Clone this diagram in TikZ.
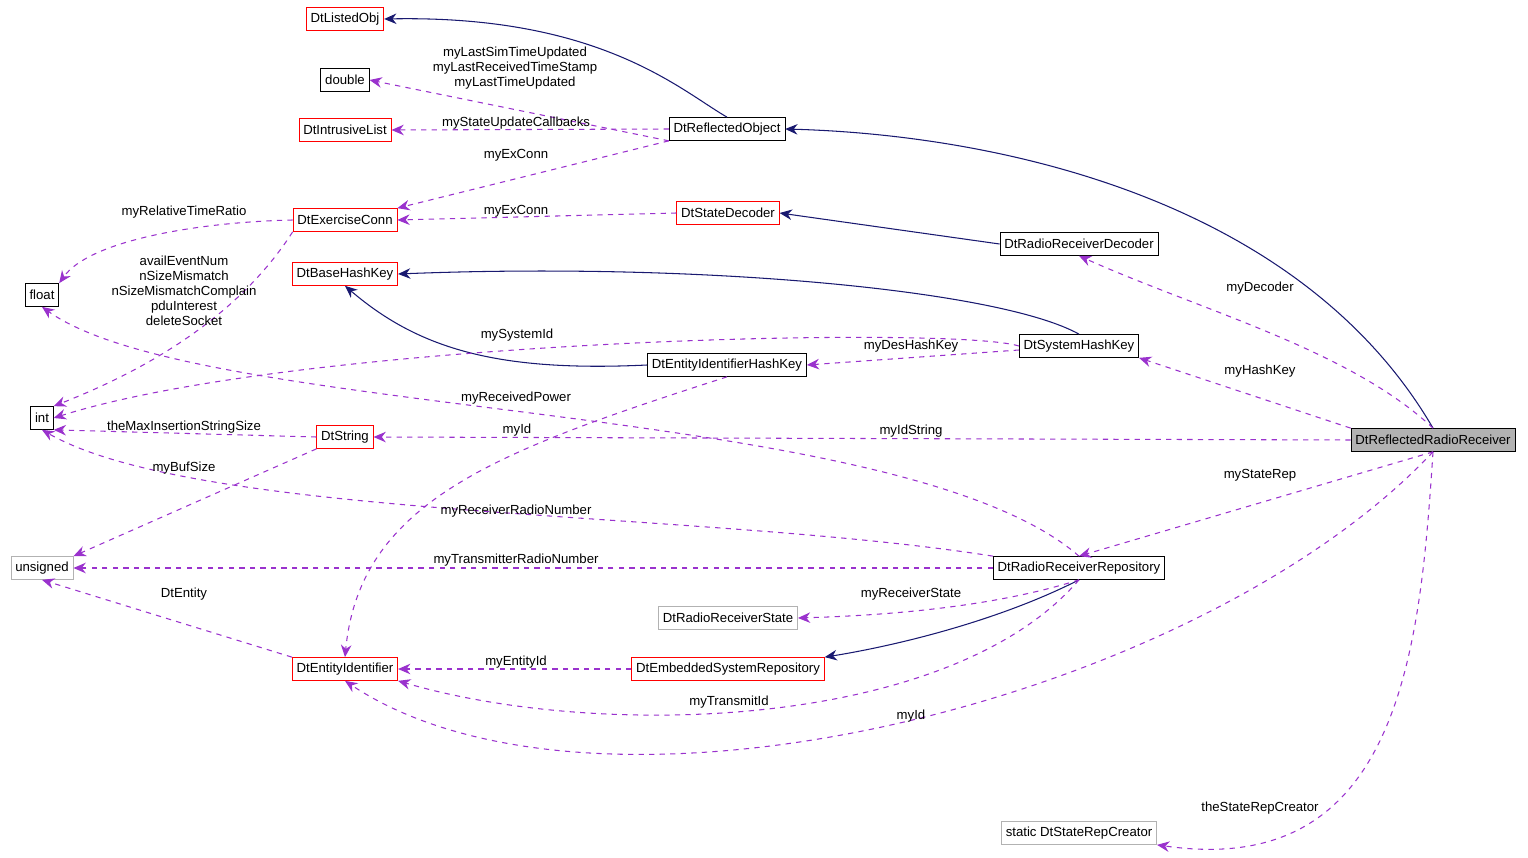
\documentclass[tikz,border=0pt]{standalone}
\usepackage{fontspec}
\setmainfont{Liberation Sans}
\usetikzlibrary{arrows.meta, positioning}
\definecolor{edgeblue}{RGB}{25,25,112}
\definecolor{edgepurple}{RGB}{154,50,205}
\definecolor{boxred}{RGB}{255,0,0}
\begin{document}
\begin{tikzpicture}[x=0.02cm, y=-0.02cm, font=\fontsize{7.5}{8.6}\selectfont,
  cls/.style={draw=black, fill=white, inner sep=2.5pt, minimum height=0.46cm},
  redcls/.style={cls, draw=boxred},
  grycls/.style={cls, draw=gray!60},
  inherit/.style={draw=edgeblue, semithick, -{Stealth[length=7pt,width=6pt]}},
  usage/.style={draw=edgepurple, semithick, dashed, -{Stealth[length=7pt,width=6pt]}},
  lbl/.style={inner sep=0pt, align=center}]
\useasboundingbox (0,0) rectangle (1528,858);

% class boxes
\node[redcls] (listed) at (345,19) {DtListedObj};
\node[cls] (double) at (345,80) {double};
\node[redcls] (intrusive) at (345,130) {DtIntrusiveList};
\node[cls] (reflobj) at (727,129) {DtReflectedObject};
\node[redcls] (exconn) at (345,220) {DtExerciseConn};
\node[redcls] (statedec) at (728,213) {DtStateDecoder};
\node[cls] (rrdecoder) at (1079,244) {DtRadioReceiverDecoder};
\node[redcls] (basehash) at (345,274) {DtBaseHashKey};
\node[cls] (float) at (42,295) {float};
\node[cls] (syshash) at (1079,346) {DtSystemHashKey};
\node[cls] (entityhash) at (727,365) {DtEntityIdentifierHashKey};
\node[cls] (int) at (42,418) {int};
\node[redcls] (string) at (345,437) {DtString};
\node[cls, fill=gray!60] (rrr) at (1433,440) {DtReflectedRadioReceiver};
\node[grycls] (unsigned) at (42,568) {unsigned};
\node[cls] (rrrepo) at (1079,568) {DtRadioReceiverRepository};
\node[grycls] (rrstate) at (728,618) {DtRadioReceiverState};
\node[redcls] (entityid) at (345,669) {DtEntityIdentifier};
\node[redcls] (embrepo) at (728,669) {DtEmbeddedSystemRepository};
\node[grycls] (creator) at (1079,833) {static DtStateRepCreator};

% inheritance
\draw[inherit] (reflobj.north) .. controls (680,90) and (600,15) .. (listed.east);
\draw[inherit] (rrr.north) .. controls (1300,200) and (1000,135) .. (reflobj.east);
\draw[inherit] (rrdecoder.west) -- (statedec.east);
\draw[inherit] (syshash.north) .. controls (1000,290) and (700,262) .. (basehash.east);
\draw[inherit] (entityhash.west) .. controls (500,372) and (420,350) .. (basehash.south);
\draw[inherit] (rrrepo.south) .. controls (1000,620) and (900,645) .. (embrepo.north east);

% usage
\draw[usage] (reflobj.south west) -- (double.east);
\draw[usage] (reflobj.west) -- (intrusive.east);
\draw[usage] (reflobj.south west) -- (exconn.north east);
\draw[usage] (statedec.west) -- (exconn.east);
\draw[usage] (exconn.west) .. controls (200,222) and (90,240) .. (float.north east);
\draw[usage] (exconn.south west) .. controls (230,330) and (120,380) .. (int.north east);
\draw[usage] (syshash.west) .. controls (950,325) and (300,340) .. (int.east);
\draw[usage] (syshash.west |- 0,350) -- (entityhash.east);
\draw[usage] (rrrepo.north) .. controls (900,400) and (200,420) .. (float.south);
\draw[usage] (string.west) -- (int.south east);
\draw[usage] (rrr.west) -- (string.east);
\draw[usage] (string.south west) -- (unsigned.north east);
\draw[usage] (rrrepo.north west) .. controls (700,510) and (200,520) .. (int.south);
\draw[usage] (rrrepo.west) -- (unsigned.east);
\draw[usage] (rrrepo.south) .. controls (1000,605) and (900,615) .. (rrstate.east);
\draw[usage] (entityid.north west) -- (unsigned.south);
\draw[usage] (embrepo.west) -- (entityid.east);
\draw[usage] (entityhash.south) .. controls (500,450) and (360,500) .. (entityid.north);
\draw[usage] (rrrepo.south) .. controls (950,730) and (600,740) .. (entityid.south east);
\draw[usage] (rrr.south) .. controls (1200,700) and (600,850) .. (entityid.south);
\draw[usage] (rrr.north) .. controls (1350,350) and (1200,310) .. (rrdecoder.south);
\draw[usage] (rrr.north west) -- (syshash.south east);
\draw[usage] (rrr.south) -- (rrrepo.north);
\draw[usage] (rrr.south) .. controls (1420,650) and (1400,880) .. (creator.south east);

% edge labels
\node[lbl] (l1) at (515,68) {myLastSimTimeUpdated\\myLastReceivedTimeStamp\\myLastTimeUpdated};
\node[lbl] (l2) at (516,123) {myStateUpdateCallbacks};
\node[lbl] (l3) at (516,155) {myExConn};
\node[lbl] (l4) at (516,211) {myExConn};
\node[lbl] (l5) at (184,212) {myRelativeTimeRatio};
\node[lbl] (l6) at (184,291) {availEventNum\\nSizeMismatch\\nSizeMismatchComplain\\pduInterest\\deleteSocket};
\node[lbl] (l7) at (517,335) {mySystemId};
\node[lbl] (l8) at (911,346) {myDesHashKey};
\node[lbl] (l9) at (516,398) {myReceivedPower};
\node[lbl] (l10) at (184,427) {theMaxInsertionStringSize};
\node[lbl] (l11) at (517,430) {myId};
\node[lbl] (l12) at (911,431) {myIdString};
\node[lbl] (l13) at (184,468) {myBufSize};
\node[lbl] (l14) at (516,511) {myReceiverRadioNumber};
\node[lbl] (l15) at (516,560) {myTransmitterRadioNumber};
\node[lbl] (l16) at (911,594) {myReceiverState};
\node[lbl] (l17) at (184,594) {DtEntity};
\node[lbl] (l18) at (516,662) {myEntityId};
\node[lbl] (l19) at (729,702) {myTransmitId};
\node[lbl] (l20) at (911,716) {myId};
\node[lbl] (l21) at (1260,288) {myDecoder};
\node[lbl] (l22) at (1260,371) {myHashKey};
\node[lbl] (l23) at (1260,475) {myStateRep};
\node[lbl] (l24) at (1260,808) {theStateRepCreator};
\end{tikzpicture}
\end{document}
